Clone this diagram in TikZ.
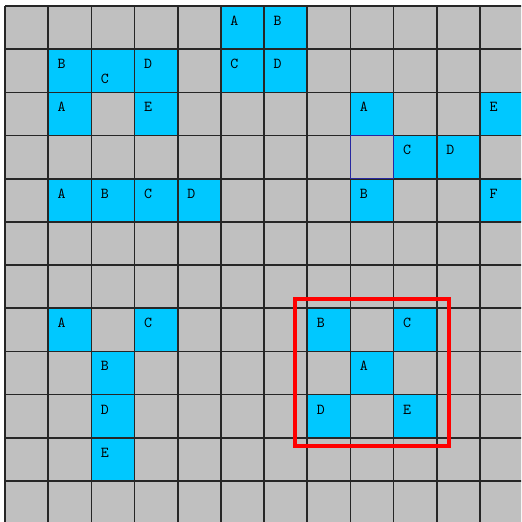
\documentclass[tikz,border=0pt]{standalone}
\usetikzlibrary{positioning}
\definecolor{cellgray}{RGB}{192,192,192}
\definecolor{cellblue}{RGB}{0,200,255}
\definecolor{framered}{RGB}{255,0,0}
\definecolor{markblue}{RGB}{40,40,160}

\begin{document}
\begin{tikzpicture}[
    font=\ttfamily\fontsize{10}{12}\selectfont,
    cellbox/.style={rectangle, fill=cellblue, minimum size=1cm, inner sep=0pt},
    letter/.style={inner sep=0pt, text=black},
    gridline/.style={draw=black!85, line width=1.1pt},
    frame/.style={draw=framered, line width=2.6pt}
]
\clip (-0.116,0.139) rectangle (11.95,-11.95);
\fill[cellgray] (0,-12) rectangle (12,0);
% shaded cells: row/column/letter
\foreach \r/\c/\t in {0/5/A, 0/6/B,
    1/1/B, 1/3/D, 1/5/C, 1/6/D,
    2/1/A, 2/3/E, 2/8/A, 2/11/E,
    3/9/C, 3/10/D,
    4/1/A, 4/2/B, 4/3/C, 4/4/D, 4/8/B, 4/11/F,
    7/1/A, 7/3/C, 7/7/B, 7/9/C,
    8/2/B, 8/8/A,
    9/2/D, 9/7/D, 9/9/E,
    10/2/E}{
  \node[cellbox] (b\r-\c) at (\c+0.5,-\r-0.5) {};
  \node[letter] (t\r-\c) at ([xshift=0.32cm,yshift=-0.35cm]b\r-\c.north west) {\t};
}
\node[cellbox] (b1-2) at (2.5,-1.5) {};
\node[letter] (t1-2) at ([xshift=0.32cm,yshift=-0.69cm]b1-2.north west) {C};
\draw[gridline] (0,-12) grid (12,0);
\draw[markblue, line width=0.6pt] (8,-4) rectangle (9,-3);
\draw[frame] (6.72,-6.79) rectangle (10.28,-10.19);
\end{tikzpicture}
\end{document}
